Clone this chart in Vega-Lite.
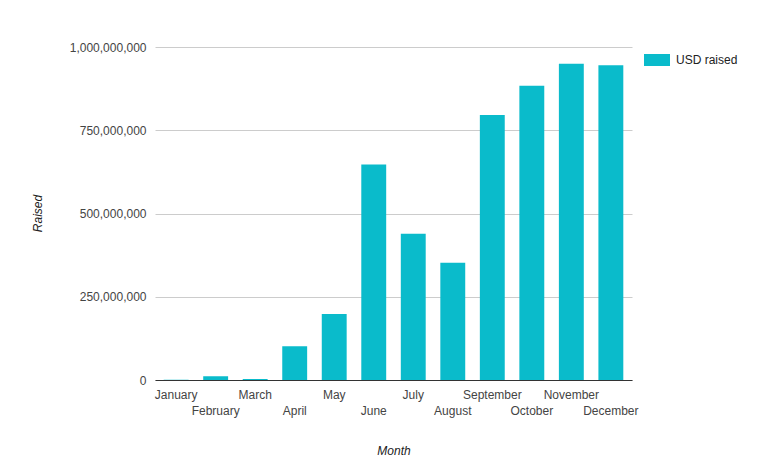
{
  "$schema": "https://vega.github.io/schema/vega-lite/v6.json",
  "width": 477,
  "height": 333,
  "autosize": "none",
  "padding": {"left": 155, "top": 47, "right": 143, "bottom": 85},
  "background": "white",
  "config": {
    "view": {"stroke": null},
    "font": "Liberation Sans"
  },
  "data": {
    "values": [
      {"Month": "January", "Raised": 500000, "Series": "USD raised"},
      {"Month": "February", "Raised": 11000000, "Series": "USD raised"},
      {"Month": "March", "Raised": 3000000, "Series": "USD raised"},
      {"Month": "April", "Raised": 101000000, "Series": "USD raised"},
      {"Month": "May", "Raised": 198000000, "Series": "USD raised"},
      {"Month": "June", "Raised": 647000000, "Series": "USD raised"},
      {"Month": "July", "Raised": 439000000, "Series": "USD raised"},
      {"Month": "August", "Raised": 352000000, "Series": "USD raised"},
      {"Month": "September", "Raised": 796000000, "Series": "USD raised"},
      {"Month": "October", "Raised": 884000000, "Series": "USD raised"},
      {"Month": "November", "Raised": 950000000, "Series": "USD raised"},
      {"Month": "December", "Raised": 945000000, "Series": "USD raised"}
    ]
  },
  "mark": {"type": "bar"},
  "encoding": {
    "x": {
      "field": "Month",
      "type": "nominal",
      "sort": null,
      "scale": {"paddingInner": 0.37, "paddingOuter": 0.22},
      "axis": {
        "title": "Month",
        "titleFontStyle": "italic",
        "titleFontWeight": "normal",
        "titleFontSize": 12,
        "titleColor": "#222222",
        "titleBaseline": "middle",
        "titleY": 70,
        "labelAngle": 0,
        "labelFontSize": 12,
        "labelColor": "#444444",
        "labelPadding": {"condition": {"test": "indexof(['February','April','June','August','October','December'], datum.value) >= 0", "value": 25}, "value": 9},
        "labelOverlap": false,
        "ticks": false,
        "domainColor": "#333333",
        "domainWidth": 1
      }
    },
    "y": {
      "field": "Raised",
      "type": "quantitative",
      "scale": {"domain": [0, 1000000000]},
      "axis": {
        "title": "Raised",
        "titleFontStyle": "italic",
        "titleFontWeight": "normal",
        "titleFontSize": 12,
        "titleColor": "#222222",
        "titleBaseline": "middle",
        "titleX": -118,
        "titleY": 166,
        "values": [0, 250000000, 500000000, 750000000, 1000000000],
        "format": ",d",
        "labelFontSize": 12,
        "labelColor": "#444444",
        "labelPadding": 9,
        "ticks": false,
        "domain": false,
        "gridColor": "#cccccc"
      }
    },
    "color": {
      "field": "Series",
      "type": "nominal",
      "scale": {"range": ["#0abbcb"]},
      "legend": {
        "title": null,
        "orient": "none",
        "legendX": 489,
        "legendY": 0,
        "symbolType": "M-1,-0.46H1V0.46H-1Z",
        "symbolSize": 676,
        "symbolStrokeWidth": 0,
        "symbolOpacity": 1,
        "labelFontSize": 12,
        "labelColor": "#222222",
        "labelOffset": 6
      }
    }
  }
}
